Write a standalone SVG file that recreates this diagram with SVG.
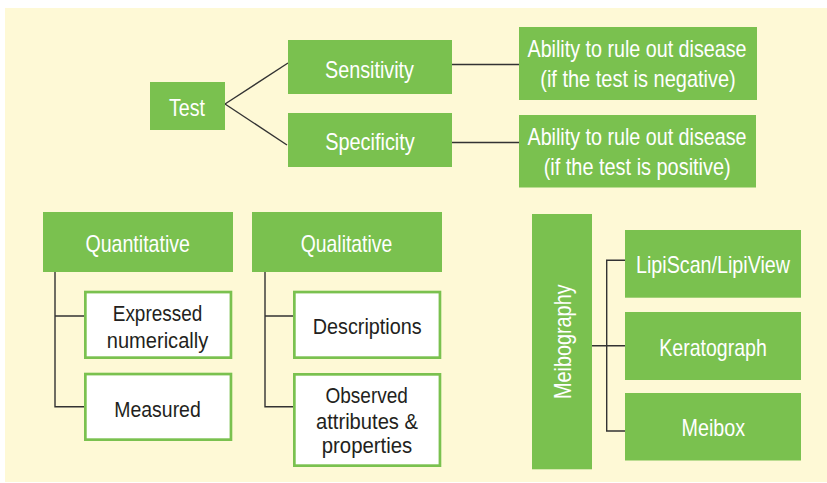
<svg xmlns="http://www.w3.org/2000/svg" width="827" height="483" viewBox="0 0 827 483">
<style>
.g{fill:#7AC14F}
.w{fill:#FFFFFF;stroke:#7AC14F;stroke-width:2.7}
.tw{font-family:"Liberation Sans Narrow","Liberation Sans",Arial,sans-serif;fill:#FFFFFF;text-anchor:middle;font-size:24px}
.tk{font-family:"Liberation Sans Narrow","Liberation Sans",Arial,sans-serif;fill:#231F20;text-anchor:middle;font-size:22px}
.ln{fill:none;stroke:#333333;stroke-width:1.4}
</style>
<rect x="5" y="8" width="822" height="474" fill="#FEF9D6"/>
<g id="connectors">
<path class="ln" d="M225,104 L288,63"/>
<path class="ln" d="M225,104 L287,145"/>
<path class="ln" d="M452,64.5 H519"/>
<path class="ln" d="M452,142.5 H519"/>
<path class="ln" d="M55,272 V406.7 H84 M55,316 H84"/>
<path class="ln" d="M265,272 V406.7 H293 M265,316 H293"/>
<path class="ln" d="M592,345.7 H625 M625,260.3 H606.7 V431 H625"/>
</g>
<g id="test">
<rect class="g" x="150" y="82" width="75" height="48"/>
<text class="tw" x="187" y="116" textLength="36" lengthAdjust="spacingAndGlyphs">Test</text>
</g>
<g id="sensitivity">
<rect class="g" x="288" y="40" width="164" height="54"/>
<text class="tw" x="369.5" y="77.7" textLength="89" lengthAdjust="spacingAndGlyphs">Sensitivity</text>
</g>
<g id="specificity">
<rect class="g" x="288" y="113" width="164" height="54"/>
<text class="tw" x="370" y="150.3" textLength="89.5" lengthAdjust="spacingAndGlyphs">Specificity</text>
</g>
<g id="ability-negative">
<rect class="g" x="519" y="27" width="238" height="73"/>
<text class="tw" x="637" y="57" font-size="23" textLength="219" lengthAdjust="spacingAndGlyphs">Ability to rule out disease</text>
<text class="tw" x="638" y="87" font-size="23" textLength="195.5" lengthAdjust="spacingAndGlyphs">(if the test is negative)</text>
</g>
<g id="ability-positive">
<rect class="g" x="519" y="115" width="237" height="72.5"/>
<text class="tw" x="637" y="145" font-size="23" textLength="219" lengthAdjust="spacingAndGlyphs">Ability to rule out disease</text>
<text class="tw" x="637.2" y="175" font-size="23" textLength="187" lengthAdjust="spacingAndGlyphs">(if the test is positive)</text>
</g>
<g id="quantitative">
<rect class="g" x="43" y="212" width="190" height="60"/>
<text class="tw" x="137.7" y="251.7" font-size="23" textLength="104.5" lengthAdjust="spacingAndGlyphs">Quantitative</text>
</g>
<g id="qualitative">
<rect class="g" x="252" y="212" width="190" height="60"/>
<text class="tw" x="346.5" y="251.7" font-size="23" textLength="91.5" lengthAdjust="spacingAndGlyphs">Qualitative</text>
</g>
<g id="expressed">
<rect class="w" x="85.35" y="292.05" width="145.6" height="65.6"/>
<text class="tk" x="157.5" y="321" textLength="89.5" lengthAdjust="spacingAndGlyphs">Expressed</text>
<text class="tk" x="157.5" y="347.7" textLength="101.5" lengthAdjust="spacingAndGlyphs">numerically</text>
</g>
<g id="measured">
<rect class="w" x="85.35" y="374.05" width="145.6" height="65.6"/>
<text class="tk" x="157.5" y="416.7" textLength="86.5" lengthAdjust="spacingAndGlyphs">Measured</text>
</g>
<g id="descriptions">
<rect class="w" x="294.35" y="292.05" width="145.6" height="65.6"/>
<text class="tk" x="367.2" y="334.3" textLength="109" lengthAdjust="spacingAndGlyphs">Descriptions</text>
</g>
<g id="observed">
<rect class="w" x="294.35" y="374.35" width="145.6" height="91.3"/>
<text class="tk" x="366.7" y="402.7" textLength="82.5" lengthAdjust="spacingAndGlyphs">Observed</text>
<text class="tk" x="367" y="429.3" textLength="102" lengthAdjust="spacingAndGlyphs">attributes &amp;</text>
<text class="tk" x="367" y="453.3" textLength="90.5" lengthAdjust="spacingAndGlyphs">properties</text>
</g>
<g id="meibography">
<rect class="g" x="532" y="214" width="60" height="255.3"/>
<text class="tw" transform="translate(570.7,341.7) rotate(-90)" x="0" y="0" textLength="114.5" lengthAdjust="spacingAndGlyphs">Meibography</text>
</g>
<g id="lipiscan">
<rect class="g" x="625" y="230" width="176" height="67.7"/>
<text class="tw" x="713" y="273.3" textLength="154" lengthAdjust="spacingAndGlyphs">LipiScan/LipiView</text>
</g>
<g id="keratograph">
<rect class="g" x="625" y="312" width="176" height="68"/>
<text class="tw" x="713" y="355.7" textLength="107.5" lengthAdjust="spacingAndGlyphs">Keratograph</text>
</g>
<g id="meibox">
<rect class="g" x="625" y="393" width="176" height="67.5"/>
<text class="tw" x="713.3" y="435.7" textLength="63.5" lengthAdjust="spacingAndGlyphs">Meibox</text>
</g>
</svg>
